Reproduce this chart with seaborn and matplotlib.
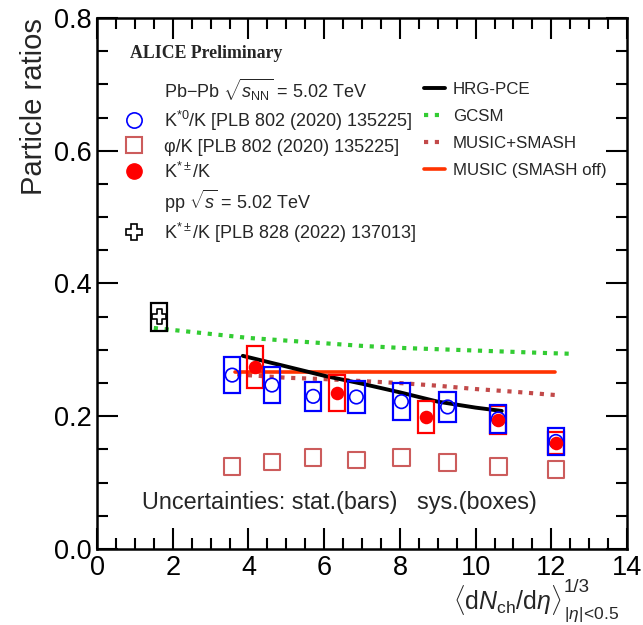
import numpy as np
import pandas as pd
import matplotlib
matplotlib.use("Agg")
import matplotlib.pyplot as plt
from matplotlib.patches import Rectangle
from matplotlib.lines import Line2D
from matplotlib.ticker import MultipleLocator, FormatStrFormatter
import seaborn as sns

# ---------------- data ----------------
kst0_x = [3.57, 4.62, 5.71, 6.85, 8.04, 9.26, 10.60, 12.12]
kst0_y = [0.262, 0.247, 0.230, 0.229, 0.222, 0.214, 0.196, 0.162]
kst0_sys = [0.027, 0.027, 0.022, 0.024, 0.028, 0.023, 0.021, 0.020]

phi_x = [3.57, 4.62, 5.71, 6.85, 8.04, 9.26, 10.60, 12.12]
phi_y = [0.124, 0.131, 0.138, 0.134, 0.138, 0.130, 0.124, 0.120]

kstpm_x = [4.17, 6.34, 8.69, 10.60, 12.12]
kstpm_y = [0.274, 0.235, 0.199, 0.194, 0.160]
kstpm_sys = [0.032, 0.027, 0.024, 0.021, 0.017]

pp_x = [1.64]
pp_y = [0.350]
pp_sys = [0.021]

hrg_x = [3.85, 5.0, 6.0, 7.0, 8.0, 9.0, 10.0, 10.69]
hrg_y = [0.291, 0.275, 0.261, 0.249, 0.236, 0.222, 0.213, 0.208]

gcsm_x = [1.5, 2.0, 3.0, 4.0, 5.0, 6.0, 7.0, 8.0, 9.0, 10.0, 11.0, 12.0, 12.6]
gcsm_y = [0.333, 0.330, 0.324, 0.318, 0.314, 0.310, 0.306, 0.303, 0.301, 0.299, 0.297, 0.295, 0.294]

msmash_x = [3.7, 5.0, 6.0, 7.0, 8.0, 9.0, 10.0, 11.0, 12.1]
msmash_y = [0.263, 0.258, 0.256, 0.253, 0.250, 0.246, 0.241, 0.237, 0.232]

moff_x = [3.65, 12.1]
moff_y = [0.267, 0.267]

# ---------------- style ----------------
sns.set_theme(style="ticks")
plt.rcParams["font.family"] = ["Liberation Sans", "DejaVu Sans"]
plt.rcParams["mathtext.fontset"] = "custom"
plt.rcParams["mathtext.rm"] = "Liberation Sans"
plt.rcParams["mathtext.it"] = "Liberation Sans:italic"
plt.rcParams["mathtext.bf"] = "Liberation Sans:bold"

BLUE = "#0000ff"
RED = "#ff0000"
PHI = "#cc5c5c"
GREEN = "#33cc33"
MSM = "#c24a4a"
MOFF = "#ff3300"

fig = plt.figure(figsize=(6.43, 6.25), dpi=100)
ax = fig.add_axes([0.1509, 0.1216, 0.8243, 0.8496])

# model curves
sns.lineplot(x=gcsm_x, y=gcsm_y, ax=ax, color=GREEN, linewidth=3,
             linestyle=(0, (1, 1.6)), zorder=2)
sns.lineplot(x=msmash_x, y=msmash_y, ax=ax, color=MSM, linewidth=3,
             linestyle=(0, (1, 1.6)), zorder=2)
sns.lineplot(x=moff_x, y=moff_y, ax=ax, color=MOFF, linewidth=2.6, zorder=2)
sns.lineplot(x=hrg_x, y=hrg_y, ax=ax, color="black", linewidth=2.8, zorder=2)

# systematic boxes
BW = 0.43
for x, y, s in zip(kstpm_x, kstpm_y, kstpm_sys):
    ax.add_patch(Rectangle((x - BW / 2, y - s), BW, 2 * s, fill=False,
                           edgecolor=RED, linewidth=1.6, zorder=3))
for x, y, s in zip(kst0_x, kst0_y, kst0_sys):
    ax.add_patch(Rectangle((x - BW / 2, y - s), BW, 2 * s, fill=False,
                           edgecolor=BLUE, linewidth=1.6, zorder=3))
for x, y, s in zip(pp_x, pp_y, pp_sys):
    ax.add_patch(Rectangle((x - BW / 2, y - s), BW, 2 * s, fill=False,
                           edgecolor="black", linewidth=1.6, zorder=3))

# points
sns.scatterplot(x=kst0_x, y=kst0_y, ax=ax, marker="o", s=95, color=BLUE,
                facecolors="none", edgecolor=BLUE, linewidth=1.2, zorder=4)
sns.scatterplot(x=phi_x, y=phi_y, ax=ax, marker="s", s=140, color=PHI,
                facecolors="none", edgecolor=PHI, linewidth=1.5, zorder=4)
sns.scatterplot(x=kstpm_x, y=kstpm_y, ax=ax, marker="o", s=95, color=RED,
                edgecolor=RED, linewidth=0, zorder=5)
sns.scatterplot(x=pp_x, y=pp_y, ax=ax, marker="P", s=110, color="black",
                facecolors="none", edgecolor="black", linewidth=1.2, zorder=5)

# axes
ax.set_xlim(0, 14)
ax.set_ylim(0, 0.8)
ax.xaxis.set_major_locator(MultipleLocator(2))
ax.xaxis.set_minor_locator(MultipleLocator(0.5))
ax.yaxis.set_major_locator(MultipleLocator(0.2))
ax.yaxis.set_minor_locator(MultipleLocator(0.05))
ax.yaxis.set_major_formatter(FormatStrFormatter("%.1f"))
ax.tick_params(which="both", direction="in", top=True, right=True,
               colors="black", width=1.5)
ax.tick_params(which="major", length=15, labelsize=19.5, pad=4)
ax.tick_params(which="minor", length=8)
for sp in ax.spines.values():
    sp.set_linewidth(1.8)
    sp.set_color("black")

ax.set_ylabel("Particle ratios", loc="top", fontsize=21)
ax.yaxis.set_label_coords(-0.092, 1.0)

# x label: main part plus ROOT-style stacked super/subscripts
ax.set_xlabel(r"$\langle\mathrm{d}N_{\mathrm{ch}}/\mathrm{d}\eta\rangle$",
              loc="right", fontsize=18)
ax.xaxis.label.set_va("baseline")
ax.xaxis.set_label_coords(0.877, -0.113)
ax.text(0.881, -0.081, "1/3", transform=ax.transAxes, fontsize=13.5,
        ha="left", va="baseline")
ax.text(0.881, -0.131, r"$|\eta|\!<\!0.5$", transform=ax.transAxes,
        fontsize=12.5, ha="left", va="baseline")

# texts
ax.text(0.062, 0.934, "ALICE Preliminary", transform=ax.transAxes,
        family=["Liberation Serif"], fontweight="bold", fontsize=12.8,
        va="center", ha="left")
ax.text(0.457, 0.087, "Uncertainties: stat.(bars)   sys.(boxes)",
        transform=ax.transAxes, fontsize=16.8, va="center", ha="center")

# left legend
blank = Line2D([], [], linestyle="none", marker="")
h_k0 = Line2D([], [], linestyle="none", marker="o", markersize=11,
              markerfacecolor="none", markeredgecolor=BLUE, markeredgewidth=1.2)
h_phi = Line2D([], [], linestyle="none", marker="s", markersize=12,
               markerfacecolor="none", markeredgecolor=PHI, markeredgewidth=1.5)
h_kpm = Line2D([], [], linestyle="none", marker="o", markersize=11,
               markerfacecolor=RED, markeredgecolor=RED)
h_pp = Line2D([], [], linestyle="none", marker="P", markersize=11,
              markerfacecolor="none", markeredgecolor="black", markeredgewidth=1.2)
left_labels = [r"Pb$-$Pb $\sqrt{s_{\mathrm{NN}}}$ = 5.02 TeV",
               r"K$^{*0}$/K [PLB 802 (2020) 135225]",
               "φ/K [PLB 802 (2020) 135225]",
               r"K$^{*\pm}$/K",
               r"pp $\sqrt{s}$ = 5.02 TeV",
               r"K$^{*\pm}$/K [PLB 828 (2022) 137013]"]
leg1 = ax.legend([blank, h_k0, h_phi, h_kpm, blank, h_pp], left_labels,
                 loc="upper left", bbox_to_anchor=(0.045, 0.89),
                 frameon=False, fontsize=13, labelspacing=0.33,
                 handlelength=1.4, handletextpad=1.0, borderaxespad=0,
                 borderpad=0)
ax.add_artist(leg1)

# right legend
r_handles = [Line2D([], [], color="black", linewidth=2.8),
             Line2D([], [], color=GREEN, linewidth=3, linestyle=(0, (1, 1.6))),
             Line2D([], [], color=MSM, linewidth=3, linestyle=(0, (1, 1.6))),
             Line2D([], [], color=MOFF, linewidth=2.6)]
r_labels = ["HRG-PCE", "GCSM", "MUSIC+SMASH", "MUSIC (SMASH off)"]
ax.legend(r_handles, r_labels, loc="upper left", bbox_to_anchor=(0.617, 0.88),
          frameon=False, fontsize=12.2, labelspacing=0.72, handlelength=1.25,
          handletextpad=0.45, borderaxespad=0, borderpad=0)

fig.savefig("out.png", dpi=100)
